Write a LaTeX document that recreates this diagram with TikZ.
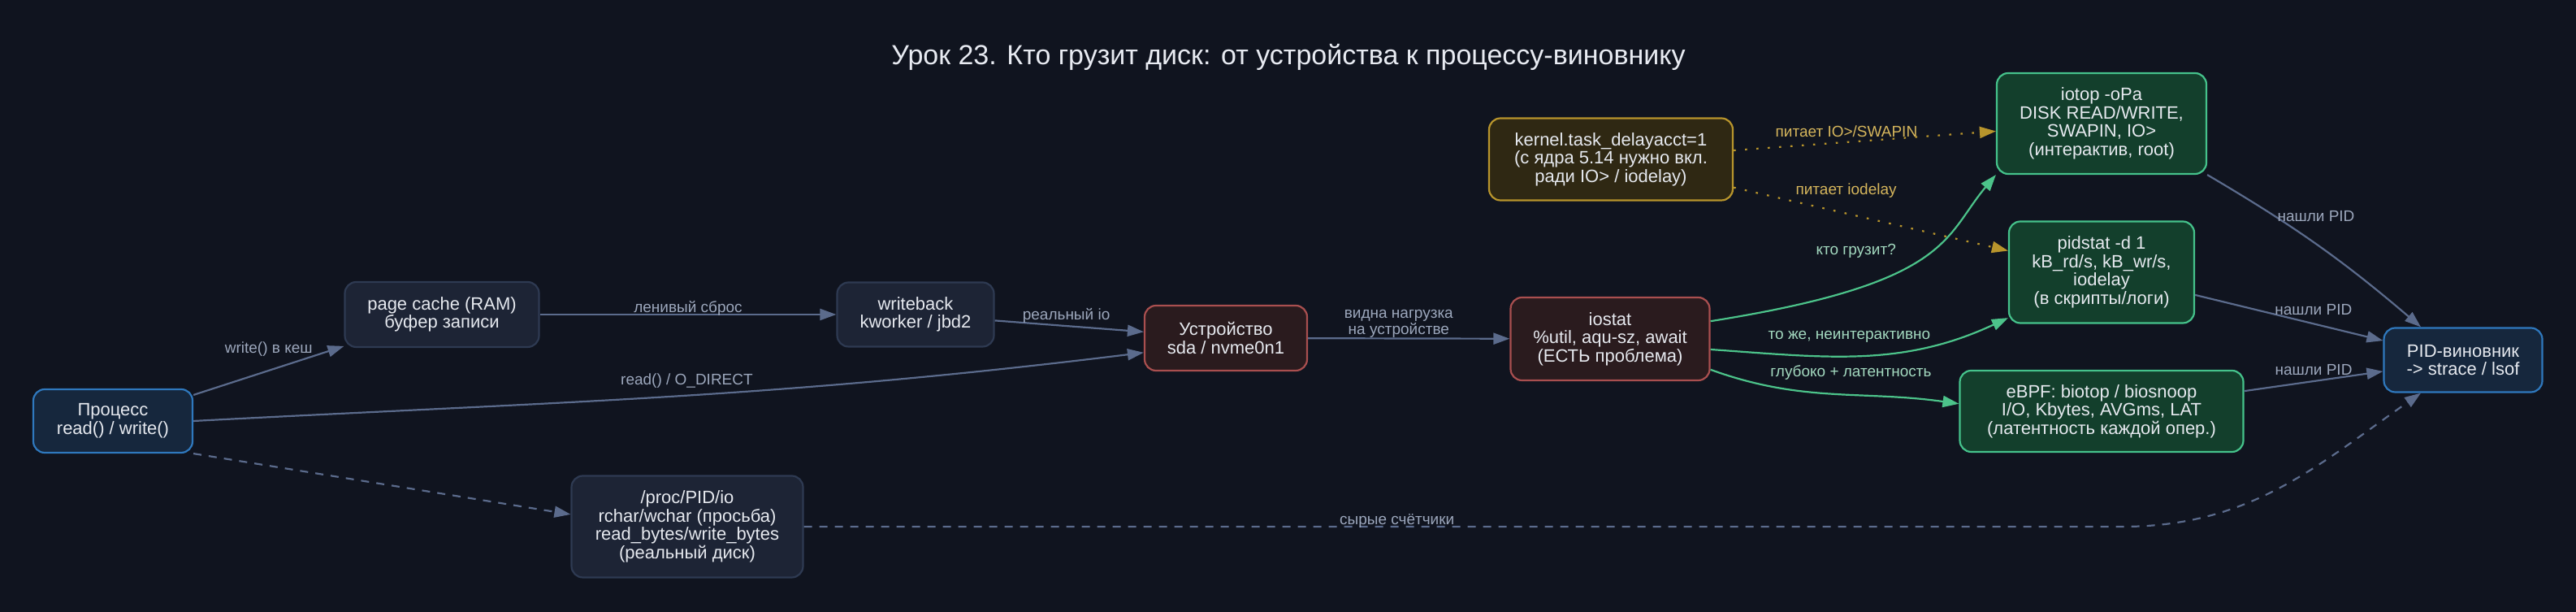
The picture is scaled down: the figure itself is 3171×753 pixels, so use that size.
\documentclass[tikz,border=0pt]{standalone}
\usepackage{fontspec}
\setmainfont{Liberation Sans}
\usepackage{tikz}
\usetikzlibrary{arrows.meta}

\definecolor{bgcol}{HTML}{10141F}
\definecolor{titlecol}{HTML}{E8EBF2}
\definecolor{nodetext}{HTML}{E6E9EF}
\definecolor{plainfill}{HTML}{1D2435}
\definecolor{plainline}{HTML}{2E3A52}
\definecolor{procfill}{HTML}{16273D}
\definecolor{procline}{HTML}{2F78BD}
\definecolor{alarmfill}{HTML}{2A1B1E}
\definecolor{alarmline}{HTML}{A94F4F}
\definecolor{goldfill}{HTML}{2F2813}
\definecolor{goldline}{HTML}{B8952C}
\definecolor{toolfill}{HTML}{133F2C}
\definecolor{toolline}{HTML}{45C28B}
\definecolor{flowcol}{HTML}{5B6B8C}
\definecolor{flowlbl}{HTML}{9CA7BC}
\definecolor{hotcol}{HTML}{4CC38A}
\definecolor{hotlbl}{HTML}{A3D9BF}
\definecolor{feedcol}{HTML}{B8952C}
\definecolor{feedlbl}{HTML}{D6B65C}

\begin{document}
\begin{tikzpicture}[x=0.5pt, y=0.5pt,
        box/.style={shape=rectangle, rounded corners=7pt, line width=1.1pt, align=center,
            text=nodetext, inner sep=0pt, font=\fontsize{11}{11.3}\selectfont},
        plain/.style={box, draw=plainline, fill=plainfill},
        proc/.style={box, draw=procline, fill=procfill},
        alarm/.style={box, draw=alarmline, fill=alarmfill},
        gold/.style={box, draw=goldline, fill=goldfill},
        tool/.style={box, draw=toolline, fill=toolfill},
        flow/.style={-{Triangle[length=10pt, width=7pt]}, line width=1.1pt, draw=flowcol},
        hot/.style={flow, draw=hotcol},
        feed/.style={flow, draw=feedcol, dash pattern=on 1.3pt off 5.7pt},
        raw/.style={flow, dash pattern=on 5pt off 4.5pt},
        lbl/.style={font=\fontsize{9.5}{10}\selectfont, text=flowlbl, align=center, inner sep=0pt},
        hotlabel/.style={lbl, text=hotlbl},
        feedlabel/.style={lbl, text=feedlbl}]
            \fill[bgcol] (0,0) rectangle (3171,753);
            \node[text=titlecol, font=\fontsize{17}{20}\selectfont] (Title) at (1586,683) {Урок 23. Кто грузит диск: от устройства к процессу-виновнику};

            \node[proc, minimum width=98pt, minimum height=39pt] (Process) at (139,235) {Процесс\\read() / write()};
            \node[plain, minimum width=119.5pt, minimum height=40pt] (PageCache) at (544,366) {page cache (RAM)\\буфер записи};
            \node[plain, minimum width=96.5pt, minimum height=39.5pt] (Writeback) at (1127,366) {writeback\\kworker / jbd2};
            \node[alarm, minimum width=100pt, minimum height=40pt] (Device) at (1509,337) {Устройство\\sda / nvme0n1};
            \node[alarm, minimum width=122.5pt, minimum height=51pt] (Iostat) at (1982,336) {iostat\\\%util, aqu-sz, await\\(ЕСТЬ проблема)};
            \node[gold, minimum width=150pt, minimum height=50.5pt] (Delayacct) at (1983,557) {kernel.task\_delayacct=1\\(с ядра 5.14 нужно вкл.\\ради IO> / iodelay)};
            \node[tool, minimum width=129pt, minimum height=62pt] (Iotop) at (2587,601) {iotop -oPa\\DISK READ/WRITE,\\SWAPIN, IO>\\(интерактив, root)};
            \node[tool, minimum width=114pt, minimum height=62.5pt] (Pidstat) at (2587,418) {pidstat -d 1\\kB\_rd/s, kB\_wr/s,\\iodelay\\(в скрипты/логи)};
            \node[tool, minimum width=174.5pt, minimum height=50pt] (Ebpf) at (2587,247) {eBPF: biotop / biosnoop\\I/O, Kbytes, AVGms, LAT\\(латентность каждой опер.)};
            \node[proc, minimum width=97.5pt, minimum height=39.5pt] (Culprit) at (3032,310) {PID-виновник\\-> strace / lsof};
            \node[plain, minimum width=142.5pt, minimum height=62.5pt] (ProcIo) at (846,105) {/proc/PID/io\\rchar/wchar (просьба)\\read\_bytes/write\_bytes\\(реальный диск)};
            \coordinate (RawBend) at (2612,105);

            \draw[flow] (Process) -- node [lbl, pos=0.5, yshift=13pt] {write() в кеш} (PageCache);
            \draw[flow] (PageCache) -- node [lbl, pos=0.5, yshift=4pt] {ленивый сброс} (Writeback);
            \draw[flow] (Writeback) -- node [lbl, pos=0.48, yshift=6.3pt] {реальный io} (Device);
            \draw[flow] (Process.east) to [out=3, in=187] node [lbl, pos=0.52, yshift=9pt] {read() / O\_DIRECT} (Device.190);
            \draw[raw] (Process.south east) -- (ProcIo.174);
            \draw[flow] (Device) -- node [lbl, pos=0.45, yshift=9pt] {видна нагрузка\\на устройстве} (Iostat);
            \draw[hot] (Iostat.10) to [out=9, in=230, out distance=150pt, in distance=50pt] node [hotlabel, pos=0.35, xshift=-18pt, yshift=16.5pt] {кто грузит?} (Iotop.south west);
            \draw[hot] (Iostat.-6) to [out=-4, in=205] node [hotlabel, pos=0.45, yshift=12pt] {то же, неинтерактивно} (Pidstat.206);
            \draw[hot] (Iostat.-17) to [out=-20, in=172] node [hotlabel, pos=0.55, xshift=4pt, yshift=13.5pt] {глубоко + латентность} (Ebpf.177);
            \draw[feed] (Delayacct) -- node [feedlabel, pos=0.43, yshift=6.5pt] {питает IO>/SWAPIN} (Iotop);
            \draw[feed] (Delayacct) -- node [feedlabel, pos=0.41, yshift=14pt] {питает iodelay} (Pidstat);
            \draw[flow] (Iotop.south east) to [bend left=5] node [lbl, pos=0.4, xshift=11pt, yshift=9.5pt] {нашли PID} (Culprit.142);
            \draw[flow] (Pidstat) -- node [lbl, pos=0.63, yshift=8.7pt] {нашли PID} (Culprit);
            \draw[flow] (Ebpf) -- node [lbl, pos=0.5, yshift=7pt] {нашли PID} (Culprit);
            \draw[raw] (ProcIo.east) -- node [lbl, pos=0.45, yshift=3.5pt] {сырые счётчики} (RawBend) to [out=0, in=215] (Culprit.218);
        \end{tikzpicture}
\end{document}
